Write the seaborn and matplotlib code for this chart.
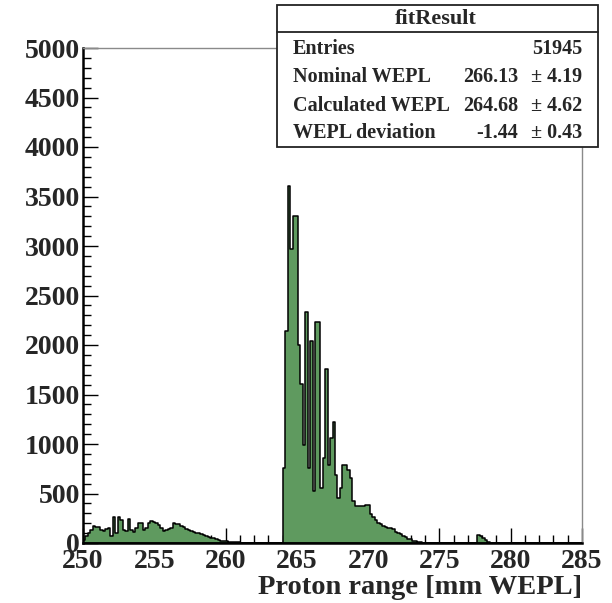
import numpy as np
import pandas as pd
import matplotlib
matplotlib.use("Agg")
import matplotlib.pyplot as plt
import seaborn as sns
from matplotlib.ticker import MultipleLocator
from matplotlib.patches import Rectangle
from matplotlib.lines import Line2D

# ---- histogram layout (ROOT TH1: 200 bins on [250, 285]) ----
x_min, x_max, n_bins = 250.0, 285.0, 200

# counts per bin, bins 0..78  (250.000 - 263.825)
counts_low = [30, 70, 98, 131, 172, 165, 160, 131, 120, 138,
              148, 70, 260, 100, 262, 230, 131, 120, 240, 131,
              114, 150, 199, 202, 131, 148, 202, 225, 215, 200,
              182, 148, 124, 130, 138, 150, 202, 195, 189, 170,
              165, 140, 131, 120, 114, 105, 98, 90, 81, 72,
              64, 55, 47, 38, 30, 25, 20, 16, 13, 12,
              10, 8, 6, 5, 4, 3, 2, 2, 1, 1,
              1, 1, 0, 1, 0, 0, 1, 0, 0]
# counts per bin, bins 79..137  (263.825 - 274.150)
counts_peak = [5, 755, 2146, 3605, 2968, 3303, 3303, 1995, 1610, 989,
               2334, 755, 2045, 523, 2233, 2233, 553, 855, 1760, 788,
               1056, 1227, 687, 453, 553, 788, 788, 737, 654, 422,
               372, 372, 372, 372, 380, 385, 290, 260, 234, 205,
               190, 175, 162, 155, 148, 140, 114, 100, 91, 70,
               60, 45, 37, 25, 20, 15, 8, 5, 3]
# small bump, bins 158..163 (277.65 - 278.70)
counts_bump = [80, 75, 55, 30, 12, 5]

peak_first_bin = 79
bump_first_bin = 158

counts = np.zeros(n_bins)
counts[:len(counts_low)] = counts_low
counts[peak_first_bin:peak_first_bin + len(counts_peak)] = counts_peak
counts[bump_first_bin:bump_first_bin + len(counts_bump)] = counts_bump
edges = np.linspace(x_min, x_max, n_bins + 1)
centers = 0.5 * (edges[:-1] + edges[1:])
df = pd.DataFrame({"range": centers, "count": counts})

# ---- stats box content ----
stats_title = "fitResult"
stats_names = ["Entries", "Nominal WEPL", "Calculated WEPL", "WEPL deviation"]
stats_values = ["51945", "266.13", "264.68", "-1.44"]
stats_errors = ["", "\u00b1 4.19", "\u00b1 4.62", "\u00b1 0.43"]

sns.set_theme(style="ticks")
plt.rcParams['font.family'] = ['Liberation Serif', 'DejaVu Serif']
plt.rcParams['font.weight'] = 'bold'
plt.rcParams['axes.labelweight'] = 'bold'

W, H = 612, 603
fig = plt.figure(figsize=(W / 100, H / 100), dpi=100)
fig.patch.set_facecolor("white")
ax = fig.add_axes([83 / W, 1 - 543 / H, (582 - 83) / W, (543 - 48) / H])
ax.set_facecolor("white")

sns.histplot(data=df, x="range", weights="count", bins=list(edges),
             element="step", fill=True, color="#5f9a5f", alpha=1.0,
             edgecolor="black", linewidth=1.1, ax=ax)

ax.set_xlim(x_min, x_max)
ax.set_ylim(0, 5000)
ax.xaxis.set_major_locator(MultipleLocator(5))
ax.xaxis.set_minor_locator(MultipleLocator(1))
ax.yaxis.set_major_locator(MultipleLocator(500))
ax.yaxis.set_minor_locator(MultipleLocator(100))
ax.tick_params(which='both', direction='in', top=False, right=False,
               width=1.0, color='black')
ax.tick_params(which='major', length=11)
ax.tick_params(which='minor', length=6)
ax.tick_params(axis='x', which='major', labelsize=20, pad=4)
ax.tick_params(axis='y', which='major', labelsize=20, pad=2)
for lab in ax.get_xticklabels() + ax.get_yticklabels():
    lab.set_fontweight('bold')

ax.set_ylabel("")
ax.set_xlabel("Proton range [mm WEPL]", loc='right', fontsize=20.5,
              fontweight='bold', labelpad=1)

for s in ["left", "bottom"]:
    ax.spines[s].set_color("black")
    ax.spines[s].set_linewidth(1.8)
for s in ["top", "right"]:
    ax.spines[s].set_color("#8a8a8a")
    ax.spines[s].set_linewidth(1.0)

# ---- stats box ----
bx0, bx1, by0, by1 = 277, 598, 5, 147
fig.add_artist(Rectangle((bx0 / W, 1 - by1 / H), (bx1 - bx0) / W, (by1 - by0) / H,
                         transform=fig.transFigure, facecolor="white",
                         edgecolor="#222222", linewidth=1.3, zorder=10))
fig.add_artist(Line2D([bx0 / W, bx1 / W], [1 - 32 / H, 1 - 32 / H],
                      transform=fig.transFigure, color="#222222",
                      linewidth=1.3, zorder=11))
fig.text(436 / W, 1 - 18.5 / H, stats_title, ha="center", va="center",
         fontsize=16, fontweight="bold", zorder=12)
row_y = [49.5, 76.5, 106, 133.5]
for name, val, err, yy in zip(stats_names, stats_values, stats_errors, row_y):
    fig.text(293 / W, 1 - yy / H, name, ha="left", va="center",
             fontsize=14.5, fontweight="bold", zorder=12)
    if err:
        fig.text(518 / W, 1 - yy / H, val, ha="right", va="center",
                 fontsize=14.5, fontweight="bold", zorder=12)
        fig.text(582 / W, 1 - yy / H, err, ha="right", va="center",
                 fontsize=14.5, fontweight="bold", zorder=12)
    else:
        fig.text(582 / W, 1 - yy / H, val, ha="right", va="center",
                 fontsize=14.5, fontweight="bold", zorder=12)

fig.savefig("out.png", dpi=100, facecolor="white")
